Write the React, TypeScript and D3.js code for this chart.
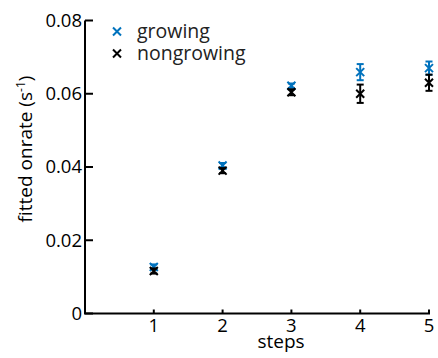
import React from "react";
import * as d3 from "d3";

const steps = [1, 2, 3, 4, 5];
const growing = [0.0127, 0.0404, 0.0622, 0.0659, 0.0670];
const growingErr = [0.0007, 0.0007, 0.0006, 0.0022, 0.0018];
const nongrowing = [0.0116, 0.0390, 0.0604, 0.0600, 0.0630];
const nongrowingErr = [0.0007, 0.0007, 0.0008, 0.0025, 0.0022];
const yTicks = [0, 0.02, 0.04, 0.06, 0.08];
const yTickLabels = ["0", "0.02", "0.04", "0.06", "0.08"];

const BLUE = "#0072BD";
const FONT = "'Open Sans', 'DejaVu Sans', sans-serif";

const W = 438;
const H = 358;
const left = 85;
const right = 429;
const top = 20.5;
const bottom = 313.5;

const x = d3.scaleLinear().domain([0, 5]).range([left, right]);
const y = d3.scaleLinear().domain([0, 0.08]).range([bottom, top]);

function Cross({ cx, cy, color, s = 4 }: { cx: number; cy: number; color: string; s?: number }) {
  return (
    <path
      d={`M${cx - s},${cy - s}L${cx + s},${cy + s}M${cx - s},${cy + s}L${cx + s},${cy - s}`}
      stroke={color}
      strokeWidth={2}
      fill="none"
    />
  );
}

function Series({ values, errs, color }: { values: number[]; errs: number[]; color: string }) {
  return (
    <g>
      {steps.map((s, i) => {
        const cx = x(s);
        const y0 = y(values[i] - errs[i]);
        const y1 = y(values[i] + errs[i]);
        return (
          <g key={s}>
            <line x1={cx} x2={cx} y1={y0} y2={y1} stroke={color} strokeWidth={2} />
            <line x1={cx - 3.5} x2={cx + 3.5} y1={y0} y2={y0} stroke={color} strokeWidth={2} />
            <line x1={cx - 3.5} x2={cx + 3.5} y1={y1} y2={y1} stroke={color} strokeWidth={2} />
            <Cross cx={cx} cy={y(values[i])} color={color} />
          </g>
        );
      })}
    </g>
  );
}

export default function App() {
  return (
    <svg
      width={W}
      height={H}
      style={{ position: "absolute", left: 0, top: 0, background: "#fff" }}
      fontFamily={FONT}
    >
      {/* axes */}
      <path d={`M${left},${top}V${bottom}H${right + 1}`} stroke="#000" strokeWidth={2} fill="none" />
      {yTicks.map((t, i) => (
        <g key={t}>
          <line x1={left} x2={left + 8} y1={y(t)} y2={y(t)} stroke="#000" strokeWidth={2} />
          <text x={left - 3} y={y(t)} dy="0.35em" textAnchor="end" fontSize={18.5} fill="#000">
            {yTickLabels[i]}
          </text>
        </g>
      ))}
      {steps.map((s) => (
        <g key={s}>
          <line x1={x(s)} x2={x(s)} y1={bottom} y2={bottom - 4} stroke="#000" strokeWidth={2} />
          <text x={x(s)} y={332} textAnchor="middle" fontSize={18.5} fill="#000">
            {s}
          </text>
        </g>
      ))}
      <text x={281} y={348} textAnchor="middle" fontSize={19} fill="#000">
        steps
      </text>
      <text
        transform={`translate(32,149) rotate(-90)`}
        textAnchor="middle"
        fontSize={19}
        fill="#000"
      >
        fitted onrate (s
        <tspan dy={-7} fontSize={12}>-1</tspan>
        <tspan dy={7}>)</tspan>
      </text>

      {/* legend */}
      <Cross cx={117} cy={31.5} color={BLUE} s={4} />
      <text x={137} y={37.5} fontSize={19.5} fill="#222">growing</text>
      <Cross cx={117} cy={53.5} color="#000" s={4} />
      <text x={137} y={60} fontSize={19.5} fill="#222">nongrowing</text>

      <Series values={growing} errs={growingErr} color={BLUE} />
      <Series values={nongrowing} errs={nongrowingErr} color="#000" />
    </svg>
  );
}
